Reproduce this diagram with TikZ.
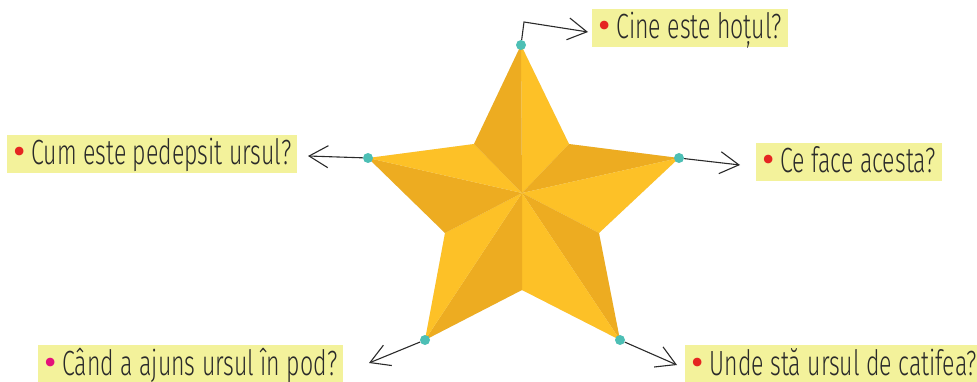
\documentclass[tikz,border=0pt]{standalone}
\usepackage{fontspec}
\setmainfont{Fira Sans}
\IfFontExistsTF{Fira Sans Light}
  {\newfontfamily\labelfont[FakeStretch=0.66]{Fira Sans Light}}
  {\IfFontExistsTF{FiraSans-Light}
    {\newfontfamily\labelfont[FakeStretch=0.66]{FiraSans-Light}}
    {\IfFontExistsTF{Open Sans Light}
      {\newfontfamily\labelfont[FakeStretch=0.62]{Open Sans Light}}
      {\newfontfamily\labelfont[FakeStretch=0.66]{Fira Sans}}}}
\newfontfamily\bulfont{Fira Sans}
\usetikzlibrary{arrows.meta}
\definecolor{starlight}{HTML}{FDC127}
\definecolor{stardark}{HTML}{EDAC21}
\definecolor{shadowgray}{HTML}{ECEEEE}
\definecolor{teal}{HTML}{4DBFB5}
\definecolor{labelyellow}{HTML}{F3F29B}
\definecolor{bulletred}{HTML}{E52521}
\definecolor{bulletmag}{HTML}{E4117A}
\definecolor{inkgray}{HTML}{2A2A2A}
\tikzset{
  labelbox/.style={fill=labelyellow, anchor=base west, inner xsep=6pt, inner ysep=3pt,
    text height=27pt, text depth=5pt, text=inkgray, font=\labelfont\fontsize{35}{38}\selectfont},
  lowbox/.style={labelbox, text depth=4pt},
  tipdot/.style={circle, fill=teal, inner sep=0pt, minimum size=10pt},
  conn/.style={draw=inkgray, line width=1.1pt, -{Straight Barb[length=19pt,width=22pt]}},
}
\newcommand{\lbul}[1]{{\bulfont\fontsize{38}{38}\selectfont\color{#1}\textbullet}\hspace{6pt}}
\begin{document}
\begin{tikzpicture}[x=1pt,y=-1pt]
\useasboundingbox (0,0) rectangle (977,382);
% star points
\coordinate (T) at (521,45);
\coordinate (UR) at (569,144);
\coordinate (R) at (679,158);
\coordinate (LR) at (599,233);
\coordinate (BR) at (620,340);
\coordinate (B) at (522,290);
\coordinate (BL) at (425,340);
\coordinate (LL) at (445,233);
\coordinate (L) at (368,158);
\coordinate (UL) at (474,144);
\coordinate (C) at (522,193);
% shadow
\fill[shadowgray, shift={(22,19)}] (T) -- (UR) -- (R) -- (LR) -- (BR) -- (B) -- (BL) -- (LL) -- (L) -- (UL) -- cycle;
% facets
\fill[starlight] (C) -- (T) -- (UR) -- cycle;
\fill[stardark]  (C) -- (UR) -- (R) -- cycle;
\fill[starlight] (C) -- (R) -- (LR) -- cycle;
\fill[stardark]  (C) -- (LR) -- (BR) -- cycle;
\fill[starlight] (C) -- (BR) -- (B) -- cycle;
\fill[stardark]  (C) -- (B) -- (BL) -- cycle;
\fill[starlight] (C) -- (BL) -- (LL) -- cycle;
\fill[stardark]  (C) -- (LL) -- (L) -- cycle;
\fill[starlight] (C) -- (L) -- (UL) -- cycle;
\fill[stardark]  (C) -- (UL) -- (T) -- cycle;
% labels
\node[labelbox] (cine) at (592,39) {\lbul{bulletred}Cine este hoțul?};
\node[labelbox] (ceface) at (756,173) {\lbul{bulletred}Ce face acesta?};
\node[labelbox] (cum) at (7,165) {\lbul{bulletred}Cum este pedepsit ursul?};
\node[lowbox] (cand) at (38,375) {\lbul{bulletmag}Când a ajuns ursul în pod?};
\node[lowbox] (unde) at (685,375) {\lbul{bulletred}Unde stă ursul de catifea?};
% dots
\node[tipdot] (dT) at (T) {};
\node[tipdot] (dR) at (R) {};
\node[tipdot] (dL) at (L) {};
\node[tipdot] (dBL) at (BL) {};
\node[tipdot] (dBR) at (BR) {};
% arrow ends
\coordinate (tc) at (524,22);
\coordinate (aT) at (588,32);
\coordinate (aR) at (740,165);
\coordinate (aL) at (308,156);
\coordinate (aBL) at (369,363);
\coordinate (aBR) at (677,365);
\draw[conn] (dT) -- (tc) -- (aT);
\draw[conn] (dR) -- (aR);
\draw[conn] (dL) -- (aL);
\draw[conn] (dBL) -- (aBL);
\draw[conn] (dBR) -- (aBR);
\end{tikzpicture}
\end{document}
